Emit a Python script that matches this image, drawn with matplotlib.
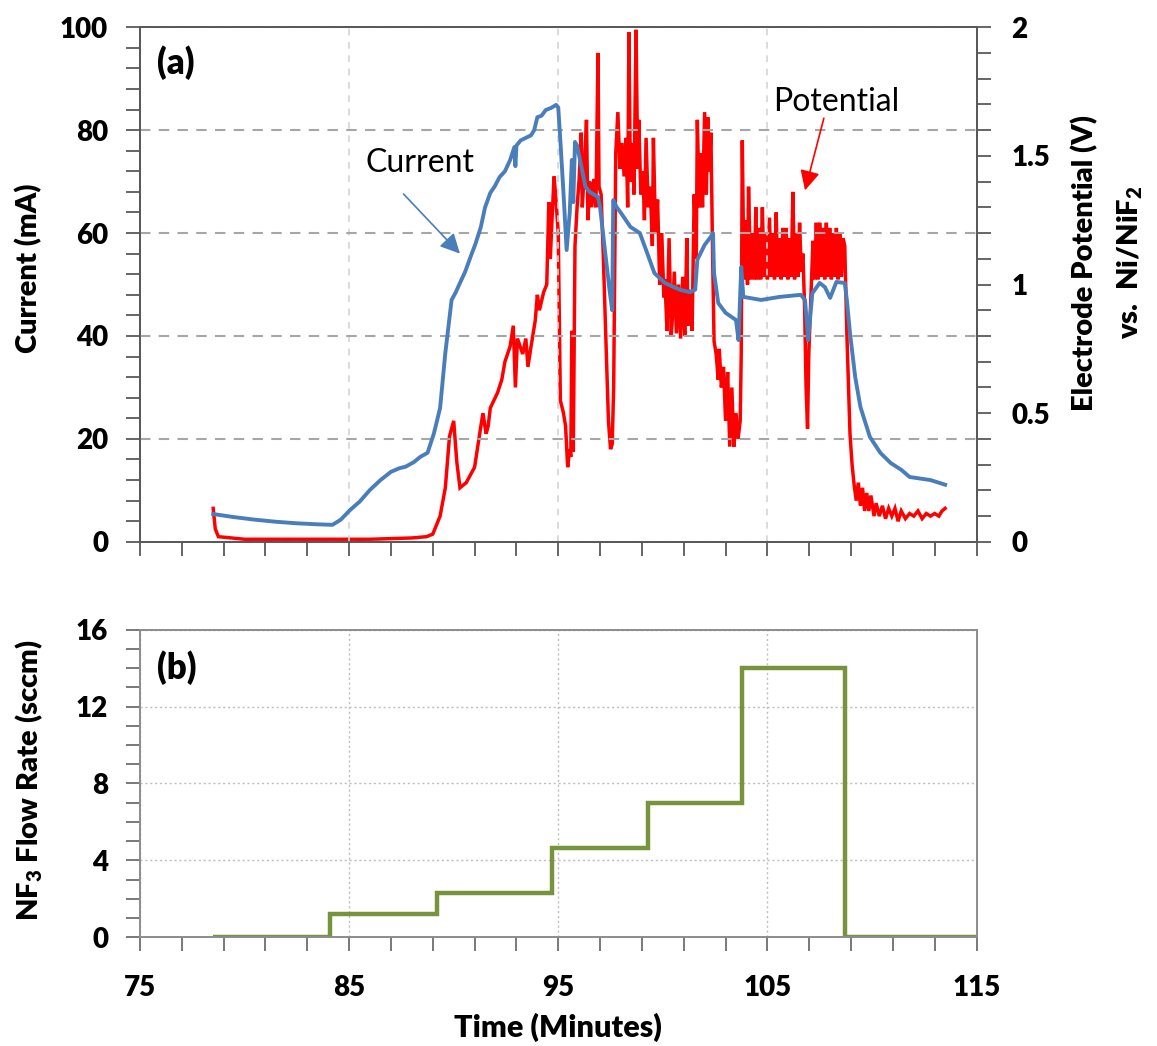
import matplotlib
matplotlib.use("Agg")
import matplotlib.pyplot as plt
from matplotlib.ticker import FixedLocator, MultipleLocator
import numpy as np

plt.rcParams['font.family'] = ['Lato', 'DejaVu Sans']
plt.rcParams['font.weight'] = 'heavy'
plt.rcParams['mathtext.fontset'] = 'custom'
plt.rcParams['mathtext.rm'] = 'Lato:heavy'
plt.rcParams['mathtext.it'] = 'Lato:heavy'
plt.rcParams['mathtext.bf'] = 'Lato:heavy'

# ---- data ----
# current (mA), left axis of panel (a)
cur_t = [78.5, 79.5, 80.5, 81.5, 82.5, 83.5, 84.2, 84.6, 85.05, 85.5, 86.0, 86.5,
         87.0, 87.4, 87.7, 88.1, 88.4, 88.75, 89.05, 89.35, 89.6, 89.9, 90.1, 90.3,
         90.55, 90.8, 91.05, 91.3, 91.5, 91.75, 91.95, 92.2, 92.45, 92.7, 92.9, 92.95,
         93.0, 93.2, 93.45, 93.7, 93.85, 94.0, 94.2, 94.4, 94.65, 94.9, 95.0, 95.1,
         95.25, 95.4, 95.55, 95.65, 95.72, 95.8, 95.9, 96.05, 96.3, 96.5, 96.9, 97.0,
         97.25, 97.45, 97.58, 97.63, 97.8, 98.0, 98.45, 98.9, 99.2, 99.6, 100.1, 100.8,
         101.3, 101.55, 101.65, 102.0, 102.3, 102.4, 102.45, 102.65, 103.0, 103.5,
         103.62, 103.75, 103.85, 104.7, 105.6, 106.6, 106.8, 106.95, 107.15, 107.5,
         107.75, 108.0, 108.3, 108.7, 108.8, 108.95, 109.2, 109.45, 109.9, 110.4,
         110.9, 111.4, 111.8, 112.8, 113.5]
cur_ma = [5.4, 4.8, 4.3, 3.9, 3.6, 3.4, 3.3, 4.3, 6.2, 7.8, 10.1, 12.0,
          13.6, 14.3, 14.6, 15.5, 16.5, 17.3, 21.0, 26.0, 36.7, 47.0, 48.5, 50.3,
          52.5, 55.3, 58.0, 61.2, 65.0, 67.8, 69.0, 70.9, 72.0, 74.2, 76.7, 73.0,
          77.0, 78.0, 78.5, 79.0, 80.0, 82.5, 82.8, 83.9, 84.3, 84.9, 84.4, 78.0,
          67.8, 56.7, 64.0, 74.2, 66.0, 77.7, 77.0, 74.0, 69.0, 68.0, 67.0, 65.0,
          56.0, 49.0, 45.0, 66.4, 65.0, 63.9, 61.2, 60.0, 56.7, 52.2, 50.3, 49.0,
          48.5, 49.0, 54.8, 57.7, 59.3, 60.0, 52.2, 46.4, 44.5, 43.1,
          39.2, 53.4, 47.6, 47.0, 47.6, 48.0, 47.0, 39.2, 48.3, 50.3,
          49.5, 47.4, 50.5, 50.3, 47.0, 40.6, 32.0, 26.2, 20.4, 17.3,
          15.3, 14.0, 12.6, 12.0, 11.1]

# electrode potential (V vs Ni/NiF2), right axis of panel (a)
pot_t = [78.5, 78.6, 78.75, 80, 82, 84, 86, 88, 88.7, 89.0, 89.35, 89.6, 89.8, 90.0,
         90.15, 90.3, 90.6, 91.0, 91.3, 91.4, 91.55, 91.65, 91.75, 92.1, 92.3, 92.45,
         92.7, 92.85, 92.95, 93.05, 93.3, 93.45, 93.55, 93.7, 93.9, 94.0, 94.1, 94.3,
         94.45, 94.55, 94.62, 94.7, 94.8, 94.88, 95.0, 95.1, 95.25, 95.35, 95.45, 95.55,
         95.6, 95.65, 95.72, 95.8, 95.9, 96.0, 96.1, 96.15, 96.25, 96.35, 96.42, 96.5,
         96.6, 96.7, 96.8, 96.9, 96.95, 97.05, 97.15, 97.3, 97.4, 97.5, 97.58, 97.65,
         97.75, 97.85, 97.95, 98.05, 98.15, 98.25, 98.32, 98.38, 98.45, 98.55, 98.62,
         98.72, 98.8, 98.85, 98.95, 99.05, 99.12, 99.2, 99.3, 99.4, 99.5, 99.55, 99.65,
         99.75, 99.85, 99.95, 100.05, 100.1, 100.2, 100.3, 100.4, 100.45, 100.55, 100.65,
         100.75, 100.85, 100.95, 101.05, 101.15, 101.2, 101.3, 101.4, 101.5, 101.6,
         101.65, 101.75, 101.8, 101.9, 102.0, 102.08, 102.15, 102.22, 102.3, 102.38,
         102.45, 102.55, 102.65, 102.7, 102.8, 102.9, 103.0, 103.1, 103.2, 103.3, 103.4,
         103.5, 103.6, 103.7, 103.75, 103.8, 103.88, 103.95, 104.05, 104.1, 104.2, 104.3,
         104.37, 104.45, 104.52, 104.6, 104.68, 104.76, 104.84, 104.92, 105.0, 105.1,
         105.18, 105.26, 105.34, 105.42, 105.5, 105.58, 105.66, 105.74, 105.82, 105.9,
         105.98, 106.06, 106.14, 106.22, 106.3, 106.38, 106.46, 106.54, 106.62, 106.7,
         106.78, 106.85, 106.92, 106.98, 107.1, 107.18, 107.26, 107.34, 107.42, 107.5,
         107.58, 107.66, 107.74, 107.82, 107.9, 107.98, 108.06, 108.14, 108.22, 108.3,
         108.38, 108.46, 108.54, 108.62, 108.7, 108.8, 108.95, 109.05, 109.15, 109.25,
         109.35, 109.45, 109.55, 109.65, 109.75, 109.85, 109.95, 110.1, 110.2, 110.35,
         110.5, 110.65, 110.8, 110.95, 111.1, 111.25, 111.4, 111.6, 111.8, 112.0, 112.2,
         112.4, 112.6, 112.8, 113.0, 113.2, 113.35, 113.5]
pot_v = [0.13, 0.05, 0.02, 0.01, 0.01, 0.01, 0.01, 0.015, 0.02, 0.03, 0.10, 0.21, 0.41, 0.47,
         0.31, 0.21, 0.23, 0.29, 0.45, 0.50, 0.42, 0.45, 0.52, 0.58, 0.63, 0.70,
         0.76, 0.84, 0.60, 0.79, 0.73, 0.79, 0.68, 0.76, 0.86, 0.96, 0.90, 0.97,
         1.00, 1.32, 1.10, 1.25, 1.42, 1.34, 1.20, 0.55, 0.50, 0.45, 0.29, 0.36,
         0.33, 0.82, 0.35, 1.15, 1.30, 1.41, 1.59, 1.30, 1.45, 1.64, 1.25, 1.40,
         1.30, 1.41, 1.30, 1.90, 1.38, 1.35, 1.12, 0.73, 0.47, 0.36, 0.38, 0.60,
         1.51, 1.67, 1.45, 1.55, 1.42, 1.57, 1.30, 1.98, 1.40, 1.55, 1.35,
         1.99, 1.45, 1.64, 1.35, 1.44, 1.25, 1.57, 1.30, 1.38, 1.15, 1.57, 1.20,
         1.33, 1.00, 1.20, 0.95, 1.02, 0.82, 1.18, 0.80, 0.86, 1.05, 0.81,
         1.00, 0.79, 1.03, 0.80, 1.18, 0.84, 0.98, 0.82, 1.35, 1.10,
         1.64, 1.30, 1.51, 1.30, 1.67, 1.35, 1.65, 1.44, 1.59, 1.12,
         0.78, 0.73, 0.63, 0.75, 0.60, 0.68, 0.47, 0.66, 0.37, 0.60, 0.37,
         0.50, 0.40, 0.47, 0.73, 1.56, 1.02, 1.25, 1.00, 1.38, 1.02, 1.20,
         1.02, 1.30, 1.02, 1.22, 1.02, 1.30, 1.03, 1.20, 1.02, 1.26,
         1.03, 1.20, 1.02, 1.28, 1.03, 1.18, 1.02, 1.22, 1.03, 1.22,
         1.02, 1.18, 1.03, 1.36, 1.02, 1.20, 1.03, 1.24, 1.05, 1.12,
         0.91, 0.60, 0.44, 0.73, 0.99, 1.17, 1.02, 1.24, 1.02, 1.24,
         1.03, 1.22, 1.02, 1.24, 1.03, 1.22, 1.02, 1.20, 1.03, 1.22,
         1.02, 1.20, 1.03, 1.18, 1.15, 0.81, 0.42, 0.30, 0.22, 0.16,
         0.23, 0.14, 0.21, 0.12, 0.19, 0.12, 0.18, 0.10, 0.15, 0.10,
         0.14, 0.09, 0.13, 0.10, 0.13, 0.08, 0.12, 0.09, 0.11, 0.10, 0.12,
         0.09, 0.11, 0.10, 0.11, 0.10, 0.12, 0.13]

# NF3 flow rate (sccm), panel (b): step edges and levels
flow_t = [78.5, 84.1, 89.2, 94.7, 99.3, 103.8, 108.7, 115.0]
flow_sccm = [0.0, 1.2, 2.3, 4.65, 7.0, 14.0, 0.0]

xmajor = [75, 85, 95, 105, 115]
xminor = list(range(75, 116, 2))

blue = '#4a7ebb'
red = '#ff0000'
green = '#77933c'

fig = plt.figure(figsize=(11.57, 10.46), dpi=100)
ax = fig.add_axes([0.121, 0.482, 0.723, 0.492])
ax2 = ax.twinx()
axb = fig.add_axes([0.121, 0.104, 0.723, 0.294])

# ---- panel (a) ----
ax2.plot(pot_t, pot_v, color=red, lw=2.5, solid_joinstyle='miter')
ax.plot(cur_t, cur_ma, color=blue, lw=2.8)
ax.set_zorder(ax2.get_zorder() + 1)
ax.patch.set_visible(False)

ax.set_xlim(75, 115)
ax.set_ylim(0, 100)
ax2.set_ylim(0, 2)
ax.xaxis.set_major_locator(FixedLocator(xmajor))
ax.xaxis.set_minor_locator(FixedLocator(xminor))
ax.yaxis.set_major_locator(MultipleLocator(20))
ax.yaxis.set_minor_locator(MultipleLocator(4))
ax2.yaxis.set_major_locator(FixedLocator([0, 0.5, 1, 1.5, 2]))
ax2.yaxis.set_minor_locator(MultipleLocator(0.1))
ax2.set_yticklabels(['0', '0.5', '1', '1.5', '2'])
ax.set_xticklabels([])

for a in (ax, ax2):
    for s in a.spines.values():
        s.set_color('#595959')
        s.set_linewidth(1.4)
ax.tick_params(axis='both', which='both', direction='out', length=10, width=1.3,
               color='#595959', labelsize=20)
ax.tick_params(axis='y', pad=13)
ax2.tick_params(axis='y', which='both', direction='out', length=10, width=1.3,
                color='#595959', labelsize=20, pad=15)

ax.xaxis.grid(True, which='major', ls=(0, (4, 4)), color='#d4d4d4', lw=1.2)
ax.yaxis.grid(True, which='major', ls=(0, (5, 4)), color='#a6a6a6', lw=1.5)

ax.text(0.02, 0.932, '(a)', transform=ax.transAxes, fontsize=25,
        va='center', ha='left')
ax.text(88.4, 73.6, 'Current', fontsize=23, fontweight='normal', ha='center', va='center')
ax.annotate('', xy=(90.3, 56.0), xytext=(87.6, 67.6),
            arrowprops=dict(arrowstyle='-|>', color=blue, lw=1.2, mutation_scale=30,
                            shrinkA=0, shrinkB=0))
ax.text(108.3, 85.5, 'Potential', fontsize=23, fontweight='normal', ha='center', va='center')
ax.annotate('', xy=(106.8, 68.3), xytext=(107.7, 82.3),
            arrowprops=dict(arrowstyle='-|>', color=red, lw=1.2, mutation_scale=30,
                            shrinkA=0, shrinkB=0))

fig.text(0.025, 0.744, 'Current (mA)', rotation=90, fontsize=21,
         ha='center', va='center')
fig.text(0.937, 0.749, 'Electrode Potential (V)', rotation=90, fontsize=21,
         ha='center', va='center')
fig.text(0.977, 0.749, 'vs.  Ni/NiF$_2$', rotation=90, fontsize=21,
         ha='center', va='center')

# ---- panel (b) ----
axb.stairs(flow_sccm, flow_t, color=green, lw=3.2, baseline=None)
axb.set_xlim(75, 115)
axb.set_ylim(0, 16)
axb.xaxis.set_major_locator(FixedLocator(xmajor))
axb.xaxis.set_minor_locator(FixedLocator(xminor))
axb.yaxis.set_major_locator(MultipleLocator(4))
axb.yaxis.set_minor_locator(MultipleLocator(1))
for s in axb.spines.values():
    s.set_color('#8c8c8c')
    s.set_linewidth(1.4)
axb.tick_params(axis='both', which='both', direction='out', length=10, width=1.3,
                color='#6e6e6e', labelsize=20)
axb.tick_params(axis='y', pad=13)
axb.tick_params(axis='x', pad=17)
axb.grid(True, which='major', ls=(0, (1.5, 2)), color='#bdbdbd', lw=1.0)
axb.set_axisbelow(True)

axb.text(0.02, 0.878, '(b)', transform=axb.transAxes, fontsize=25,
         va='center', ha='left')
fig.text(0.025, 0.254, 'NF$_3$ Flow Rate (sccm)', rotation=90, fontsize=21,
         ha='center', va='center')
fig.text(0.482, 0.018, 'Time (Minutes)', fontsize=22,
         ha='center', va='center')

fig.savefig('out.png', dpi=100)
